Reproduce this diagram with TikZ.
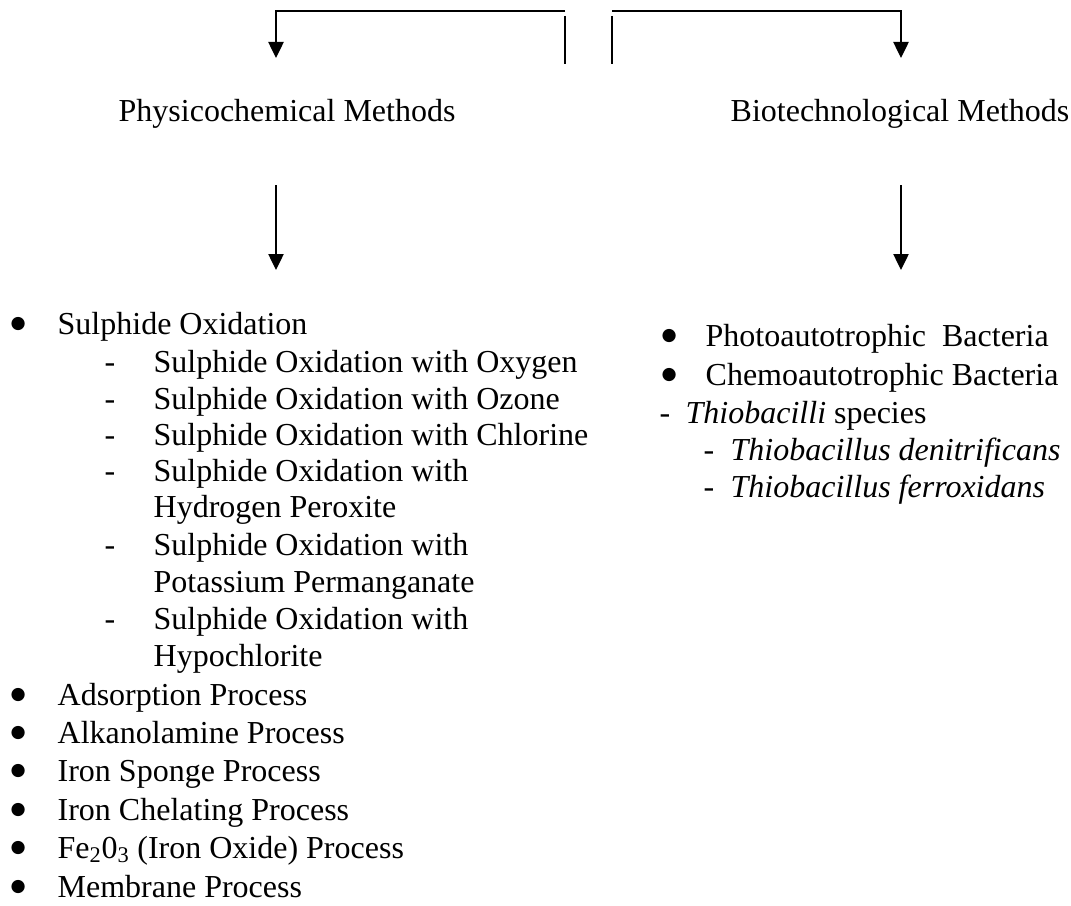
\documentclass[tikz,border=0pt]{standalone}
\usepackage{fontspec}
\setmainfont{Liberation Serif}
\newfontfamily\symfont{DejaVu Sans}
\usetikzlibrary{arrows.meta}

\begin{document}
\begin{tikzpicture}[x=0.75pt,y=-0.75pt,line width=1pt,
    >={Triangle[length=12pt,width=11.5pt]},
    itm/.style={anchor=base west,inner sep=0pt,font=\fontsize{24}{28}\selectfont},
    bul/.style={anchor=base west,inner sep=0pt,font=\symfont\fontsize{13}{15}\selectfont}]
  \useasboundingbox (0,0) rectangle (1071,906);
  % top: the split into two branches
  \coordinate (sl) at (565,11);
  \coordinate (sr) at (612,11);
  \coordinate (al) at (276,58);
  \coordinate (ar) at (901,58);
  \draw[->] (sl) -| (al);
  \draw[->] (sr) -| (ar);
  \coordinate (vl) at (565,16); \coordinate (vlb) at (565,64);
  \coordinate (vr) at (612,16); \coordinate (vrb) at (612,64);
  \draw (vl) -- (vlb);
  \draw (vr) -- (vrb);
  % headings
  \node[itm] (phys) at (118,122) {Physicochemical Methods};
  \node[itm] (bio) at (730,122) {Biotechnological Methods};
  % arrows down to the lists
  \coordinate (pl) at (276,185); \coordinate (plb) at (276,270);
  \coordinate (bl) at (901,185); \coordinate (blb) at (901,270);
  \draw[->] (pl) -- (plb);
  \draw[->] (bl) -- (blb);
  % left: physicochemical list
  \node[bul] (lb1) at (10,328) {●};
  \node[itm] (l1) at (57,334) {Sulphide Oxidation};
  \foreach \y/\t [count=\i] in {372/Sulphide Oxidation with Oxygen,
      409/Sulphide Oxidation with Ozone,
      445/Sulphide Oxidation with Chlorine,
      481/Sulphide Oxidation with,
      555/Sulphide Oxidation with,
      629/Sulphide Oxidation with}
    {\node[itm] (ld\i) at (104,\y) {-};
     \node[itm] (ls\i) at (153,\y) {\t};}
  \node[itm] (lc1) at (153,517) {Hydrogen Peroxite};
  \node[itm] (lc2) at (153,592) {Potassium Permanganate};
  \node[itm] (lc3) at (153,666) {Hypochlorite};
  \foreach \y/\t [count=\i] in {705/Adsorption Process,
      743/Alkanolamine Process,
      781/Iron Sponge Process,
      820/Iron Chelating Process,
      858/{Fe\textsubscript{2}0\textsubscript{3} (Iron Oxide) Process},
      897/Membrane Process}
    {\node[bul] (lp\i) at (10,\y-6) {●};
     \node[itm] (lt\i) at (57,\y) {\t};}
  % right: biotechnological list
  \node[bul] (rb1) at (661,340) {●};
  \node[itm] (r1) at (705,346) {Photoautotrophic\ \ Bacteria};
  \node[bul] (rb2) at (661,379) {●};
  \node[itm] (r2) at (705,385) {Chemoautotrophic Bacteria};
  \node[itm] (rd1) at (659,423) {-};
  \node[itm] (r3) at (685,423) {\itshape Thiobacilli\upshape{} species};
  \node[itm] (rd2) at (703,460) {-};
  \node[itm] (r4) at (730,460) {\itshape Thiobacillus denitrificans};
  \node[itm] (rd3) at (703,497) {-};
  \node[itm] (r5) at (730,497) {\itshape Thiobacillus ferroxidans};
\end{tikzpicture}
\end{document}
